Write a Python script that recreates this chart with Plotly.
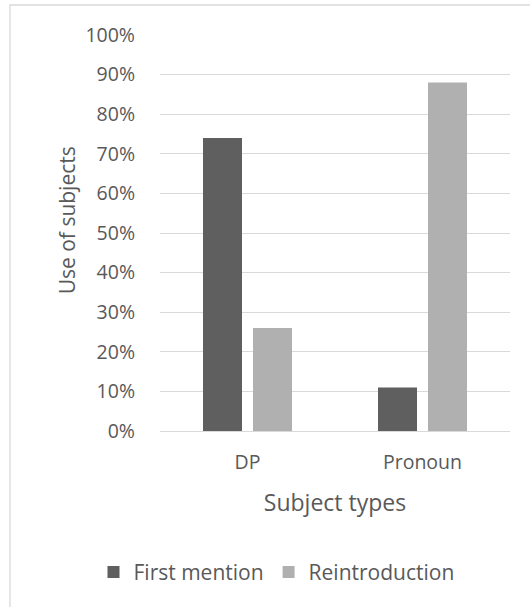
import plotly.graph_objects as go

# Share of subject types by discourse context
categories = ["DP", "Pronoun"]
first_mention = [0.74, 0.11]
reintroduction = [0.26, 0.88]
tick_vals = [0, 0.1, 0.2, 0.3, 0.4, 0.5, 0.6, 0.7, 0.8, 0.9, 1.0]
tick_text = ["0%", "10%", "20%", "30%", "40%", "50%", "60%", "70%", "80%", "90%", "100%"]

TEXT = "#595959"
FONT = "Open Sans"

fig = go.Figure()
fig.add_trace(go.Bar(x=categories, y=first_mention, name="First mention",
                     marker=dict(color="#5f5f5f", line=dict(width=0))))
fig.add_trace(go.Bar(x=categories, y=reintroduction, name="Reintroduction",
                     marker=dict(color="#b0b0b0", line=dict(width=0))))

fig.update_layout(
    width=530, height=607,
    margin=dict(l=160, r=20, t=35, b=176, autoexpand=False),
    paper_bgcolor="white", plot_bgcolor="white",
    barmode="group", bargap=0.4286, bargroupgap=0.22,
    font=dict(family=FONT, color=TEXT, size=19),
    showlegend=True,
    legend=dict(orientation="h", x=-0.19, xanchor="left", y=-0.357, yanchor="middle",
                font=dict(size=21, color=TEXT), traceorder="normal",
                itemwidth=30, bgcolor="rgba(0,0,0,0)"),
    xaxis=dict(showline=False, ticks="", tickfont=dict(size=19.5, color=TEXT),
               ticklabelstandoff=17,
               title=dict(text="Subject types", font=dict(size=23, color=TEXT), standoff=21)),
    yaxis=dict(range=[0, 1.0], tickvals=tick_vals, ticktext=tick_text,
               showgrid=True, gridcolor="#d9d9d9", gridwidth=1.3,
               zeroline=True, zerolinecolor="#d9d9d9", zerolinewidth=1.3,
               showline=False, ticks="", ticklabelstandoff=24,
               tickfont=dict(size=19.5, color=TEXT)),
    annotations=[dict(text="Use of subjects", textangle=-90, showarrow=False,
                      xref="paper", yref="paper", x=-93/350, y=0.532,
                      xanchor="center", yanchor="middle",
                      font=dict(size=21, color=TEXT))],
    shapes=[dict(type="rect", xref="paper", yref="paper",
                 x0=-150/350, x1=1.2, y0=-0.6, y1=1.0 + 30/396,
                 line=dict(color="#d9d9d9", width=1.3), fillcolor="rgba(0,0,0,0)", layer="below")],
)

fig.write_html("out.html")
